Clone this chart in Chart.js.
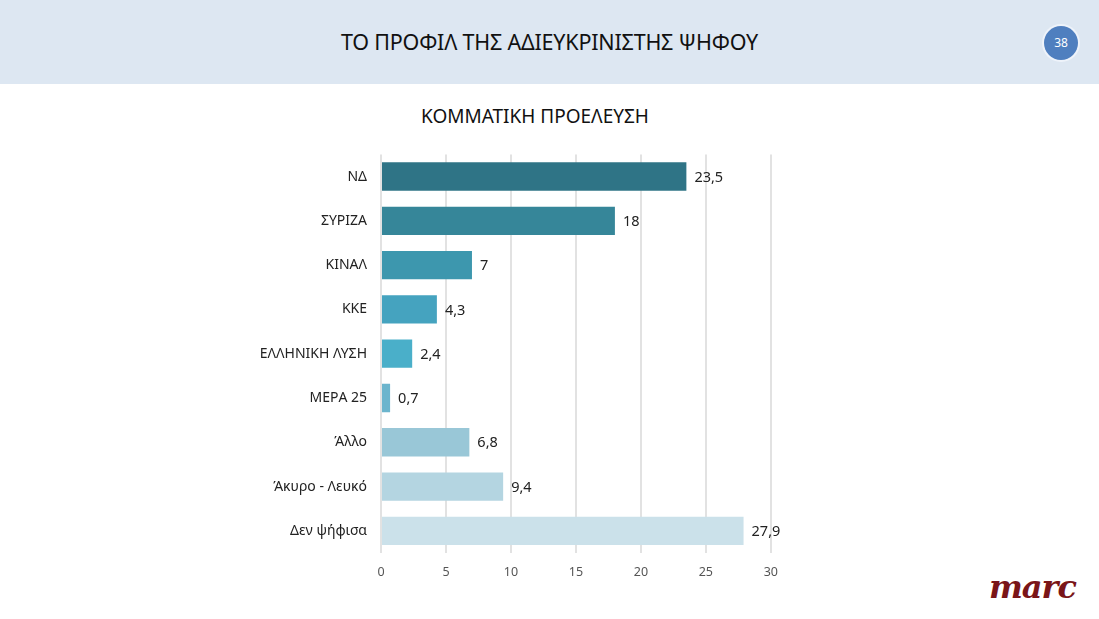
<!DOCTYPE html>
<html><head><meta charset="utf-8">
<script src="https://cdn.jsdelivr.net/npm/chart.js@4"></script>
<style>
html,body{margin:0;padding:0;background:#fff;width:1099px;height:619px;overflow:hidden;font-family:"Noto Sans",sans-serif;}
#hdr{position:absolute;left:0;top:0;width:1099px;height:84px;background:#dde7f2;}
#title{position:absolute;left:0;top:0;width:1099px;height:84px;line-height:84px;text-align:center;font-size:21.5px;color:#111;letter-spacing:-0.2px;}
#num{position:absolute;left:1044px;top:26px;width:34px;height:34px;border-radius:50%;background:#4f7fbf;color:#fff;font-size:12px;text-align:center;line-height:34px;box-shadow:0 0 0 2px #eef3fa;}
#sub{position:absolute;left:285px;top:103px;width:500px;text-align:center;font-size:19px;color:#111;}
#logo{position:absolute;left:989px;top:568px;font-family:"DejaVu Serif",serif;font-style:italic;font-weight:bold;font-size:32px;color:#7a1518;letter-spacing:-1px;}
#wrap{position:absolute;left:250px;top:140px;width:540px;height:450px;}
</style></head><body>
<div id="hdr"></div>
<div id="title">ΤΟ ΠΡΟΦΙΛ ΤΗΣ ΑΔΙΕΥΚΡΙΝΙΣΤΗΣ ΨΗΦΟΥ</div>
<div id="num">38</div>
<div id="sub">ΚΟΜΜΑΤΙΚΗ ΠΡΟΕΛΕΥΣΗ</div>
<div id="logo">marc</div>
<div id="wrap"><canvas id="c"></canvas></div>
<script>
const categories = ["ΝΔ","ΣΥΡΙΖΑ","ΚΙΝΑΛ","ΚΚΕ","ΕΛΛΗΝΙΚΗ ΛΥΣΗ","ΜΕΡΑ 25","Άλλο","Άκυρο - Λευκό","Δεν ψήφισα"];
const values = [23.5,18,7,4.3,2.4,0.7,6.8,9.4,27.9];
const barColors = ["#2f7486","#368699","#3d97ae","#45a3bf","#4aafc9","#6cb5cd","#99c7d7","#b4d5e1","#cbe1ea"];
const xTicks = [0,5,10,15,20,25,30];

const valueLabels = {
  id:'valueLabels',
  afterDatasetsDraw(chart){
    const ctx = chart.ctx;
    const meta = chart.getDatasetMeta(0);
    ctx.save();
    ctx.font = '14.5px "Noto Sans"';
    ctx.fillStyle = '#222';
    ctx.textBaseline = 'middle';
    ctx.textAlign = 'left';
    meta.data.forEach((bar,i)=>{
      ctx.fillText(String(values[i]).replace('.',','), bar.x + 8, bar.y + 1);
    });
    ctx.restore();
  }
};

new Chart(document.getElementById('c'),{
  type:'bar',
  data:{labels:categories,datasets:[{data:values,backgroundColor:barColors,borderWidth:0,barPercentage:0.64,categoryPercentage:1}]},
  options:{
    indexAxis:'y',responsive:true,maintainAspectRatio:false,animation:false,
    layout:{padding:{top:14,right:16,bottom:0,left:0}},
    plugins:{legend:{display:false},tooltip:{enabled:false}},
    scales:{
      x:{min:0,max:30,
        afterBuildTicks(s){s.ticks = xTicks.map(v=>({value:v}));},
        afterFit(s){s.height=37;},
        grid:{color:'#e2e2e2',lineWidth:2,drawTicks:false},
        border:{display:false},
        ticks:{padding:12,color:'#555',font:{family:'Noto Sans',size:12.5}}},
      y:{afterFit(s){s.width=131;},
        grid:{display:false},border:{display:false},
        ticks:{padding:6,color:'#222',font:{family:'Noto Sans',size:14}}}
    }
  },
  plugins:[valueLabels]
});
</script>
</body></html>
